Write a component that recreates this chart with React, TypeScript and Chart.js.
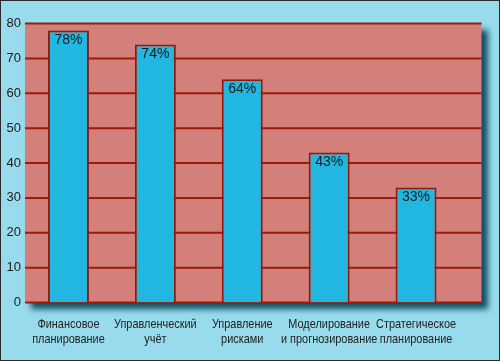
import React, { useEffect, useRef } from "react";
import { Chart, registerables } from "chart.js";

Chart.register(...registerables);

const categories: string[][] = [
  ["Финансовое", "планирование"],
  ["Управленческий", "учёт"],
  ["Управление", "рисками"],
  ["Моделирование", "и прогнозирование"],
  ["Стратегическое", "планирование"],
];
const values: number[] = [78, 74, 64, 43, 33];
const valueLabels: string[] = ["78%", "74%", "64%", "43%", "33%"];
const yTicks = { min: 0, max: 80, step: 10 };

const BG = "#98dbec";
const PLOT = "#d4807a";
const GRID = "#9c1b0c";
const BAR = "#22b7e0";
const BAR_BORDER = "#8e1b0e";
const TEXT = "#1a1a1a";
const EXT = 22;

const plotPlugin = {
  id: "plotBg",
  beforeDatasetsDraw(chart: any) {
    const { ctx, chartArea } = chart;
    const y = chart.scales.y;
    const l = chartArea.left;
    const r = chartArea.right + EXT;
    const t = chartArea.top;
    const b = chartArea.bottom;
    ctx.save();
    ctx.shadowColor = "rgba(8,70,92,0.95)";
    ctx.shadowBlur = 6;
    ctx.shadowOffsetX = 6;
    ctx.shadowOffsetY = 6;
    ctx.fillStyle = PLOT;
    ctx.fillRect(l, t, r - l, b - t);
    ctx.restore();
    ctx.save();
    ctx.strokeStyle = GRID;
    ctx.lineWidth = 2;
    y.ticks.forEach((tk: any) => {
      const py = y.getPixelForValue(tk.value);
      ctx.beginPath();
      ctx.moveTo(l, py);
      ctx.lineTo(r, py);
      ctx.stroke();
    });
    ctx.restore();
  },
  afterDatasetsDraw(chart: any) {
    const { ctx, chartArea } = chart;
    const meta = chart.getDatasetMeta(0);
    ctx.save();
    ctx.fillStyle = TEXT;
    ctx.font = "14px 'Liberation Sans', Arial, sans-serif";
    ctx.textAlign = "center";
    ctx.textBaseline = "middle";
    meta.data.forEach((bar: any, i: number) => {
      ctx.fillText(valueLabels[i], bar.x, bar.y + 10);
    });
    ctx.restore();

    // condensed category labels, positioned by the x scale
    const x = chart.scales.x;
    const sx = 0.84;
    ctx.save();
    ctx.fillStyle = "#222";
    ctx.font = "13px 'Liberation Sans', Arial, sans-serif";
    ctx.textAlign = "center";
    ctx.textBaseline = "middle";
    categories.forEach((lines, i) => {
      const px = x.getPixelForTick(i);
      lines.forEach((line, j) => {
        const py = chartArea.bottom + 21.5 + j * 15;
        ctx.save();
        ctx.translate(px, py);
        ctx.scale(sx, 1);
        ctx.fillText(line, 0, 0);
        ctx.restore();
      });
    });
    ctx.restore();
  },
};

export default function App() {
  const ref = useRef<HTMLCanvasElement>(null);
  useEffect(() => {
    document.body.style.margin = "0";
    const chart = new Chart(ref.current!, {
      type: "bar",
      data: {
        labels: categories,
        datasets: [
          {
            data: values,
            backgroundColor: BAR,
            borderColor: BAR_BORDER,
            borderWidth: 2,
            barPercentage: 0.472,
            categoryPercentage: 1,
          },
        ],
      },
      options: {
        animation: false,
        responsive: false,
        devicePixelRatio: 1,
        layout: { padding: { top: 22.5, left: 0, right: 39.5, bottom: 0 } },
        plugins: { legend: { display: false }, tooltip: { enabled: false } },
        scales: {
          x: {
            grid: { display: false, drawTicks: false },
            border: { display: false },
            ticks: { display: false },
            afterFit: (axis: any) => {
              axis.height = 57.5;
            },
          },
          y: {
            min: yTicks.min,
            max: yTicks.max,
            grid: { display: false, drawTicks: false },
            border: { display: false },
            ticks: {
              stepSize: yTicks.step,
              color: TEXT,
              padding: 4,
              font: { family: "'Liberation Sans', Arial, sans-serif", size: 13 },
            },
            afterFit: (axis: any) => {
              axis.width = 24;
            },
          },
        },
      },
      plugins: [plotPlugin],
    });
    return () => chart.destroy();
  }, []);
  return (
    <div
      style={{
        width: 500,
        height: 361,
        boxSizing: "border-box",
        border: "1px solid #2b2b2b",
        background: BG,
      }}
    >
      <canvas ref={ref} width={498} height={359} style={{ display: "block" }} />
    </div>
  );
}
